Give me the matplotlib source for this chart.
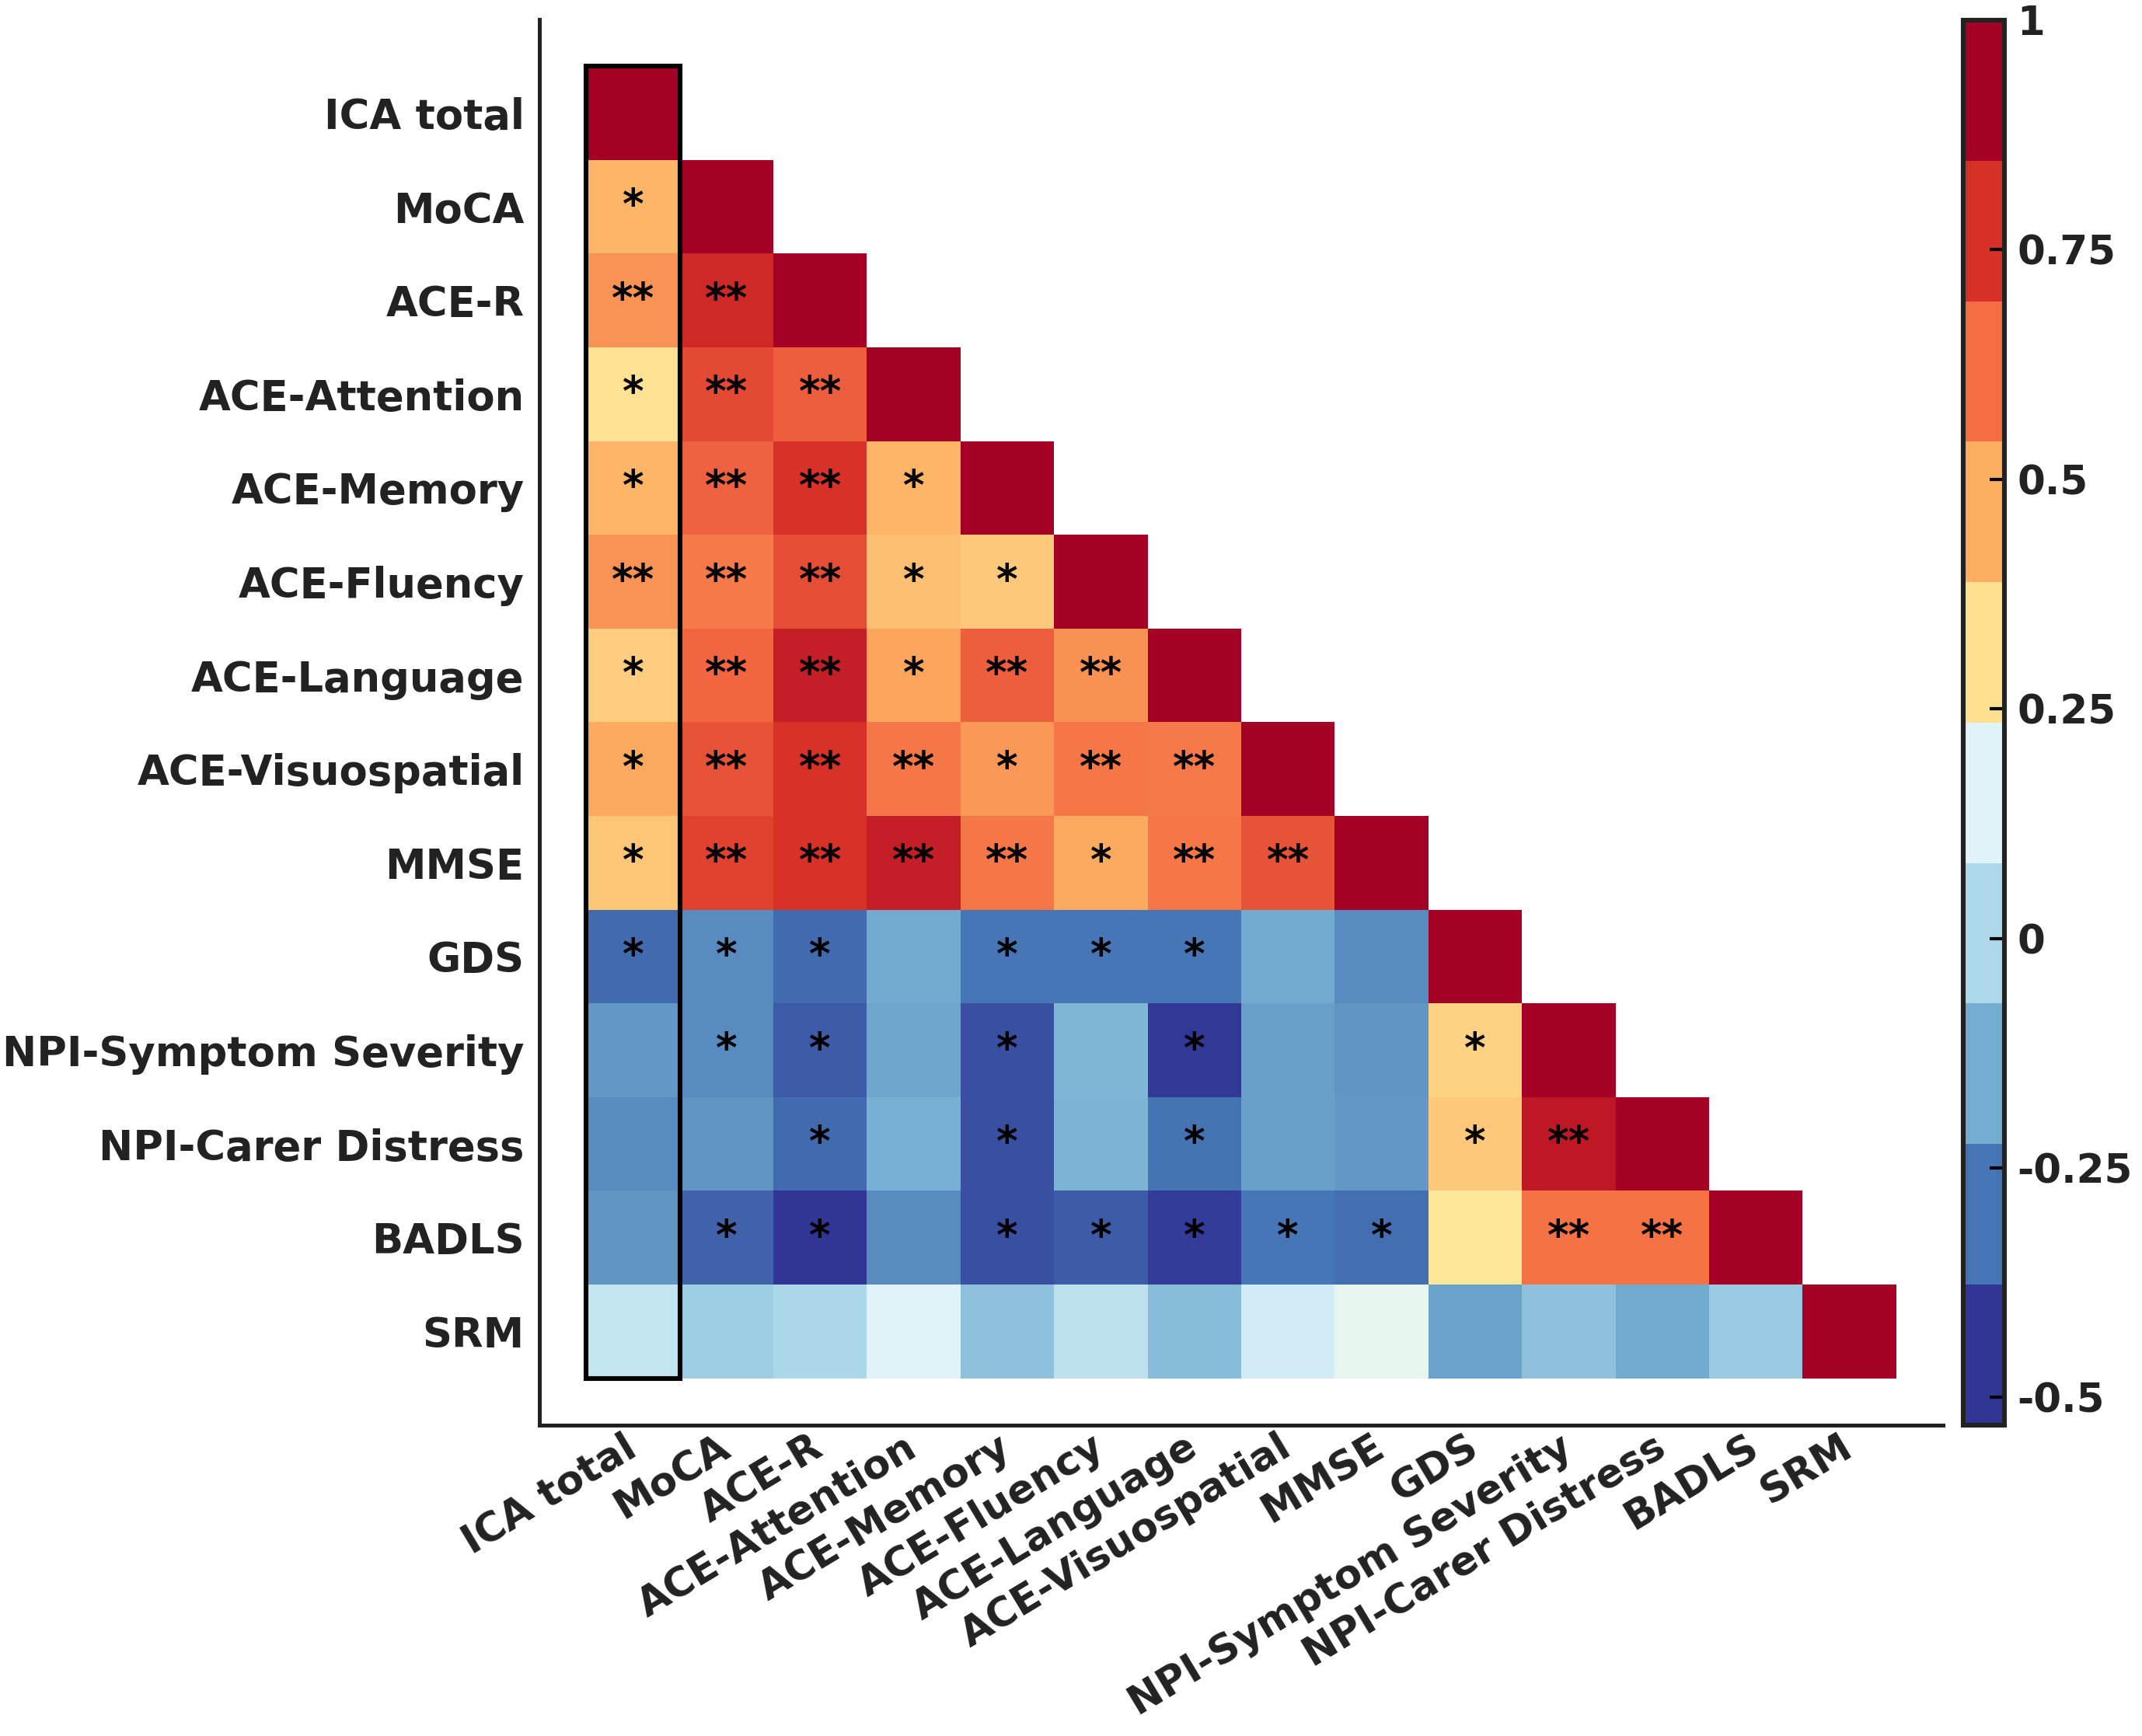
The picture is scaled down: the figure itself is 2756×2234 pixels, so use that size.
import numpy as np
import matplotlib
matplotlib.use("Agg")
import matplotlib.pyplot as plt
from matplotlib.colors import ListedColormap, Normalize
from matplotlib.cm import ScalarMappable
from matplotlib.patches import Rectangle

labels = ["ICA total", "MoCA", "ACE-R", "ACE-Attention", "ACE-Memory", "ACE-Fluency",
          "ACE-Language", "ACE-Visuospatial", "MMSE", "GDS", "NPI-Symptom Severity",
          "NPI-Carer Distress", "BADLS", "SRM"]

r_rows = [
    [],
    [0.52],
    [0.60, 0.87],
    [0.38, 0.78, 0.73],
    [0.52, 0.72, 0.84, 0.52],
    [0.60, 0.66, 0.77, 0.49, 0.46],
    [0.45, 0.71, 0.90, 0.56, 0.73, 0.61],
    [0.55, 0.76, 0.84, 0.67, 0.59, 0.67, 0.66],
    [0.47, 0.80, 0.84, 0.90, 0.67, 0.55, 0.67, 0.76],
    [-0.40, -0.31, -0.40, -0.23, -0.37, -0.37, -0.37, -0.23, -0.31],
    [-0.28, -0.31, -0.44, -0.24, -0.47, -0.19, -0.52, -0.26, -0.29, 0.43],
    [-0.31, -0.29, -0.40, -0.21, -0.47, -0.20, -0.38, -0.26, -0.28, 0.46, 0.92],
    [-0.29, -0.42, -0.53, -0.31, -0.47, -0.44, -0.51, -0.37, -0.39, 0.35, 0.68, 0.68],
    [0.00, -0.11, -0.07, 0.08, -0.15, -0.02, -0.17, 0.04, 0.11, -0.25, -0.15, -0.23, -0.12],
]

sig_rows = [
    [],
    ['*'],
    ['**', '**'],
    ['*', '**', '**'],
    ['*', '**', '**', '*'],
    ['**', '**', '**', '*', '*'],
    ['*', '**', '**', '*', '**', '**'],
    ['*', '**', '**', '**', '*', '**', '**'],
    ['*', '**', '**', '**', '**', '*', '**', '**'],
    ['*', '*', '*', '', '*', '*', '*', '', ''],
    ['', '*', '*', '', '*', '', '*', '', '', '*'],
    ['', '', '*', '', '*', '', '*', '', '', '*', '**'],
    ['', '*', '*', '', '*', '*', '*', '*', '*', '', '**', '**'],
    [''] * 13,
]

cbar_ticks = [1, 0.75, 0.5, 0.25, 0, -0.25, -0.5]
cbar_ticklabels = ["1", "0.75", "0.5", "0.25", "0", "-0.25", "-0.5"]
band_colors = ["#313695", "#4575b4", "#74add1", "#abd9e9", "#e0f3f8",
               "#fee090", "#fdae61", "#f46d43", "#d73027", "#a50026"]

vmin, vmax = -0.53, 1.0
n = len(labels)
M = np.full((n, n), np.nan)
for i in range(n):
    for j, v in enumerate(r_rows[i]):
        M[i, j] = v
    M[i, i] = 1.0
Mm = np.ma.masked_invalid(M)

plt.rcParams['font.family'] = ['DejaVu Sans']
fig = plt.figure(figsize=(13.78, 11.17), dpi=200)
ax = fig.add_axes([0.2518, 0.1791, 0.6553, 0.8097])

ax.pcolormesh(np.arange(n + 1), np.arange(n + 1), Mm, cmap='RdYlBu_r',
              vmin=vmin, vmax=vmax, shading='flat')
ax.set_xlim(-0.5, n + 0.5)
ax.set_ylim(n + 0.5, -0.5)

for i in range(n):
    for j, s in enumerate(sig_rows[i]):
        if s:
            ax.text(j + 0.5, i + 0.5, s, ha='center', va='center',
                    fontsize=19, fontweight='bold', color='black')

ax.add_patch(Rectangle((0, 0), 1, n, fill=False, edgecolor='black', lw=2.2,
                       clip_on=False, zorder=5))

ax.set_xticks(np.arange(n) + 0.5)
ax.set_yticks(np.arange(n) + 0.5)
ax.set_yticklabels(labels, fontsize=19, fontweight='bold', color='#222222')
ax.set_xticklabels(labels, fontsize=18.5, fontweight='bold', color='#222222',
                   rotation=31, ha='right', va='center', rotation_mode='anchor')
ax.tick_params(axis='y', length=0, pad=7)
ax.tick_params(axis='x', length=0, pad=9)
for side in ['top', 'right']:
    ax.spines[side].set_visible(False)
for side in ['left', 'bottom']:
    ax.spines[side].set_linewidth(1.8)
    ax.spines[side].set_color('#222222')

cax = fig.add_axes([0.9166, 0.1791, 0.0192, 0.8093])
sm = ScalarMappable(norm=Normalize(vmin=vmin, vmax=vmax),
                    cmap=ListedColormap(band_colors))
cb = fig.colorbar(sm, cax=cax)
cb.set_ticks(cbar_ticks)
cb.set_ticklabels(cbar_ticklabels)
cb.outline.set_linewidth(2.2)
cb.outline.set_edgecolor('#222222')
cax.tick_params(direction='in', length=7, width=1.5, pad=6, labelsize=18.5)
for t in cax.get_yticklabels():
    t.set_fontweight('bold')
    t.set_color('#222222')

fig.savefig("out.png", dpi=200)
